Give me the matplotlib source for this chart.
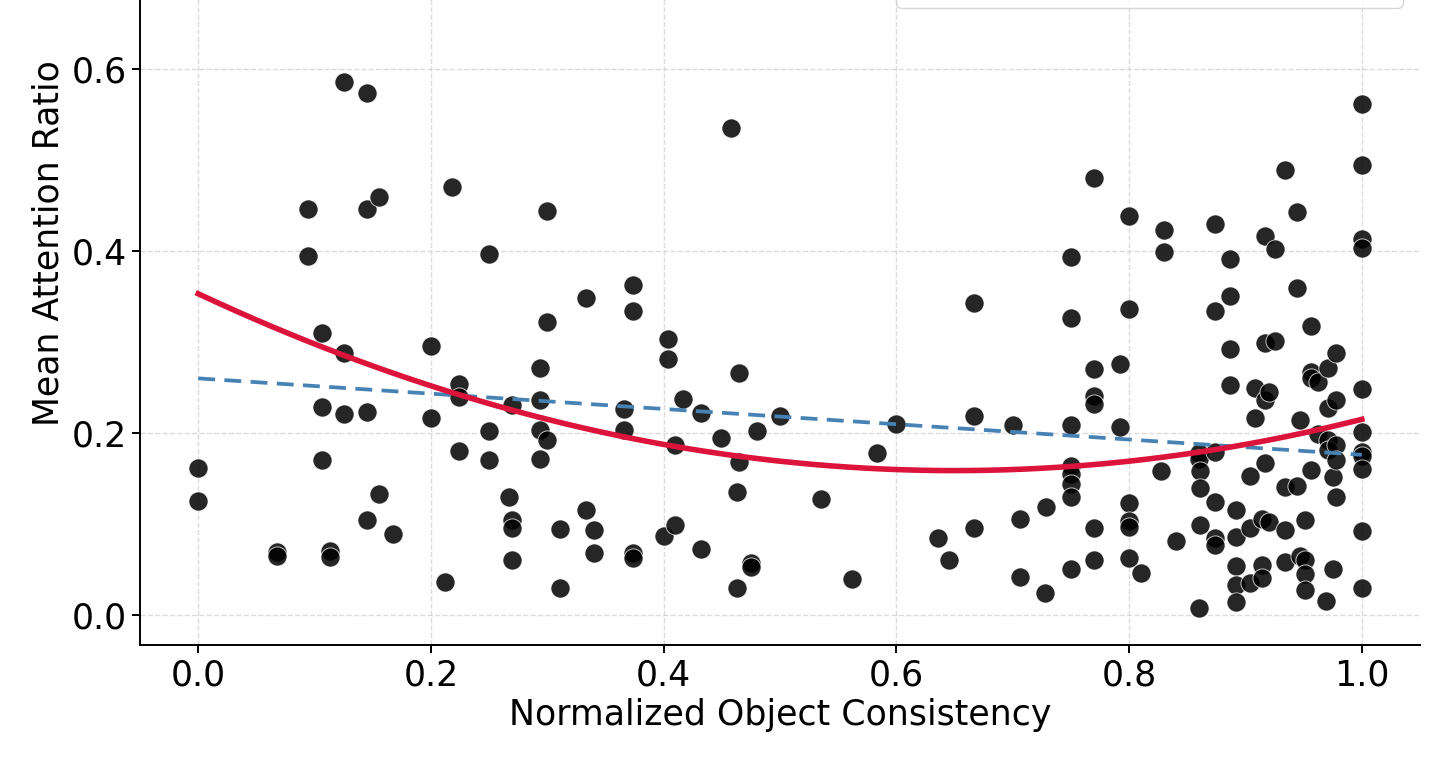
import numpy as np
import matplotlib
matplotlib.use("Agg")
import matplotlib.pyplot as plt

# consistency (x) and attention ratio (y)
consistency = [
    0.0, 0.0,
    0.068, 0.068,
    0.094, 0.094,
    0.106, 0.106, 0.106,
    0.113, 0.113,
    0.125, 0.125, 0.125,
    0.145, 0.145, 0.145, 0.145,
    0.155, 0.155,
    0.167,
    0.2, 0.2,
    0.212, 0.218,
    0.224, 0.224, 0.224,
    0.25, 0.25, 0.25,
    0.267,
    0.27, 0.27, 0.27, 0.27,
    0.294, 0.294, 0.294, 0.294,
    0.3, 0.3, 0.3,
    0.311, 0.311,
    0.333, 0.333,
    0.34, 0.34,
    0.366, 0.366,
    0.374, 0.374, 0.374, 0.374,
    0.4,
    0.404, 0.404,
    0.41, 0.41,
    0.417,
    0.432, 0.432,
    0.449, 0.458,
    0.463, 0.463,
    0.465, 0.465,
    0.475, 0.475,
    0.48, 0.5, 0.535, 0.562, 0.583, 0.6,
    0.636, 0.645,
    0.667, 0.667, 0.667,
    0.7, 0.706, 0.706,
    0.728, 0.729,
    0.75, 0.75, 0.75, 0.75, 0.75, 0.75, 0.75, 0.75,
    0.77, 0.77, 0.77, 0.77, 0.77, 0.77,
    0.792, 0.792,
    0.8, 0.8, 0.8, 0.8, 0.8, 0.8,
    0.81, 0.827,
    0.83, 0.83,
    0.84,
    0.86, 0.86, 0.86,
    0.861, 0.861, 0.861,
    0.874, 0.874, 0.874, 0.874, 0.874, 0.874,
    0.887, 0.887, 0.887, 0.887,
    0.892, 0.892, 0.892, 0.892, 0.892,
    0.904, 0.904, 0.904,
    0.908, 0.908,
    0.914, 0.914, 0.914,
    0.917, 0.917, 0.917, 0.917,
    0.92, 0.92,
    0.925, 0.925,
    0.934, 0.934, 0.934, 0.934,
    0.944, 0.944, 0.944,
    0.947, 0.947,
    0.951, 0.951, 0.951, 0.951,
    0.956, 0.956, 0.956, 0.956,
    0.962, 0.962,
    0.971, 0.971, 0.971, 0.971,
    0.969,
    0.975, 0.975,
    0.978, 0.978, 0.978, 0.978, 0.978,
    1.0, 1.0, 1.0, 1.0, 1.0, 1.0, 1.0, 1.0, 1.0, 1.0, 1.0,
]
attention = [
    0.161, 0.125,
    0.069, 0.065,
    0.446, 0.395,
    0.310, 0.170, 0.229,
    0.070, 0.064,
    0.586, 0.288, 0.221,
    0.574, 0.446, 0.223, 0.104,
    0.459, 0.133,
    0.089,
    0.296, 0.216,
    0.036, 0.470,
    0.254, 0.240, 0.180,
    0.397, 0.202, 0.170,
    0.130,
    0.231, 0.104, 0.096, 0.060,
    0.271, 0.236, 0.203, 0.171,
    0.444, 0.322, 0.192,
    0.030, 0.095,
    0.348, 0.115,
    0.093, 0.068,
    0.226, 0.203,
    0.363, 0.334, 0.068, 0.063,
    0.087,
    0.303, 0.281,
    0.187, 0.099,
    0.237,
    0.222, 0.072,
    0.194, 0.535,
    0.030, 0.135,
    0.266, 0.168,
    0.057, 0.053,
    0.202, 0.219, 0.127, 0.040, 0.178, 0.210,
    0.085, 0.060,
    0.343, 0.219, 0.096,
    0.209, 0.105, 0.042,
    0.024, 0.119,
    0.393, 0.326, 0.209, 0.164, 0.155, 0.144, 0.130, 0.051,
    0.480, 0.270, 0.241, 0.232, 0.096, 0.060,
    0.276, 0.207,
    0.438, 0.336, 0.123, 0.103, 0.097, 0.063,
    0.046, 0.158,
    0.423, 0.399,
    0.081,
    0.178, 0.171, 0.008,
    0.158, 0.139, 0.099,
    0.430, 0.334, 0.179, 0.124, 0.085, 0.077,
    0.391, 0.351, 0.292, 0.253,
    0.115, 0.086, 0.054, 0.033, 0.014,
    0.153, 0.096, 0.035,
    0.249, 0.216,
    0.105, 0.055, 0.041,
    0.416, 0.299, 0.236, 0.167,
    0.102, 0.245,
    0.402, 0.301,
    0.489, 0.141, 0.093, 0.058,
    0.443, 0.359, 0.142,
    0.214, 0.065,
    0.104, 0.060, 0.045, 0.027,
    0.318, 0.267, 0.260, 0.159,
    0.256, 0.199,
    0.271, 0.227, 0.192, 0.181,
    0.015,
    0.051, 0.152,
    0.288, 0.236, 0.187, 0.170, 0.130,
    0.562, 0.495, 0.413, 0.403, 0.248, 0.201, 0.179, 0.175, 0.160, 0.092, 0.030,
]

# fitted curves as they appear in the reference (highest power first)
linear_coef = [-0.084, 0.260]
quad_coef = [0.46, -0.598, 0.353]

W, H = 1435, 761
fig = plt.figure(figsize=(W / 100, H / 100), dpi=100)

# axes are taller than the figure: the top of the original is cropped
ylo, yhi = -0.033, 0.85
px_per_unit = 910.0
left, right, bottom = 140 / W, 1420 / W, (H - 645) / H
height = (yhi - ylo) * px_per_unit / H
ax = fig.add_axes([left, bottom, right - left, height])

ax.scatter(consistency, attention, s=190, color="black", alpha=0.85,
           edgecolor="white", linewidth=0.6, zorder=3, label="Samples")

xs = np.linspace(0, 1, 200)
ax.plot(xs, np.polyval(linear_coef, xs), color="#4682B4", lw=2.7,
        ls=(0, (4.5, 2.5)), zorder=4, label="Linear fit (r = -0.13)")
ax.plot(xs, np.polyval(quad_coef, xs), color="#DC143C", lw=4.0,
        zorder=5, label="Quadratic fit (R² = 0.041)")

ax.set_xlim(-0.05, 1.05)
ax.set_ylim(ylo, yhi)
ax.set_xticks([0.0, 0.2, 0.4, 0.6, 0.8, 1.0])
ax.set_yticks([0.0, 0.2, 0.4, 0.6])
ax.grid(True, ls="--", color="#cccccc", alpha=0.7, lw=1.0)
ax.set_axisbelow(True)
for sp in ["top", "right"]:
    ax.spines[sp].set_visible(False)
for sp in ["left", "bottom"]:
    ax.spines[sp].set_linewidth(1.4)

ax.tick_params(labelsize=25, width=1.4, length=6)
ax.set_xlabel("Normalized Object Consistency", fontsize=25)
ax.set_ylabel("Mean Attention Ratio", fontsize=25)

ax.legend(loc="lower right", bbox_to_anchor=(1.035, 0.667),
          bbox_transform=ax.transData, borderaxespad=0, fontsize=21,
          borderpad=0.9, frameon=True, framealpha=0.8, edgecolor="#cccccc")

fig.savefig("out.png", dpi=100)
